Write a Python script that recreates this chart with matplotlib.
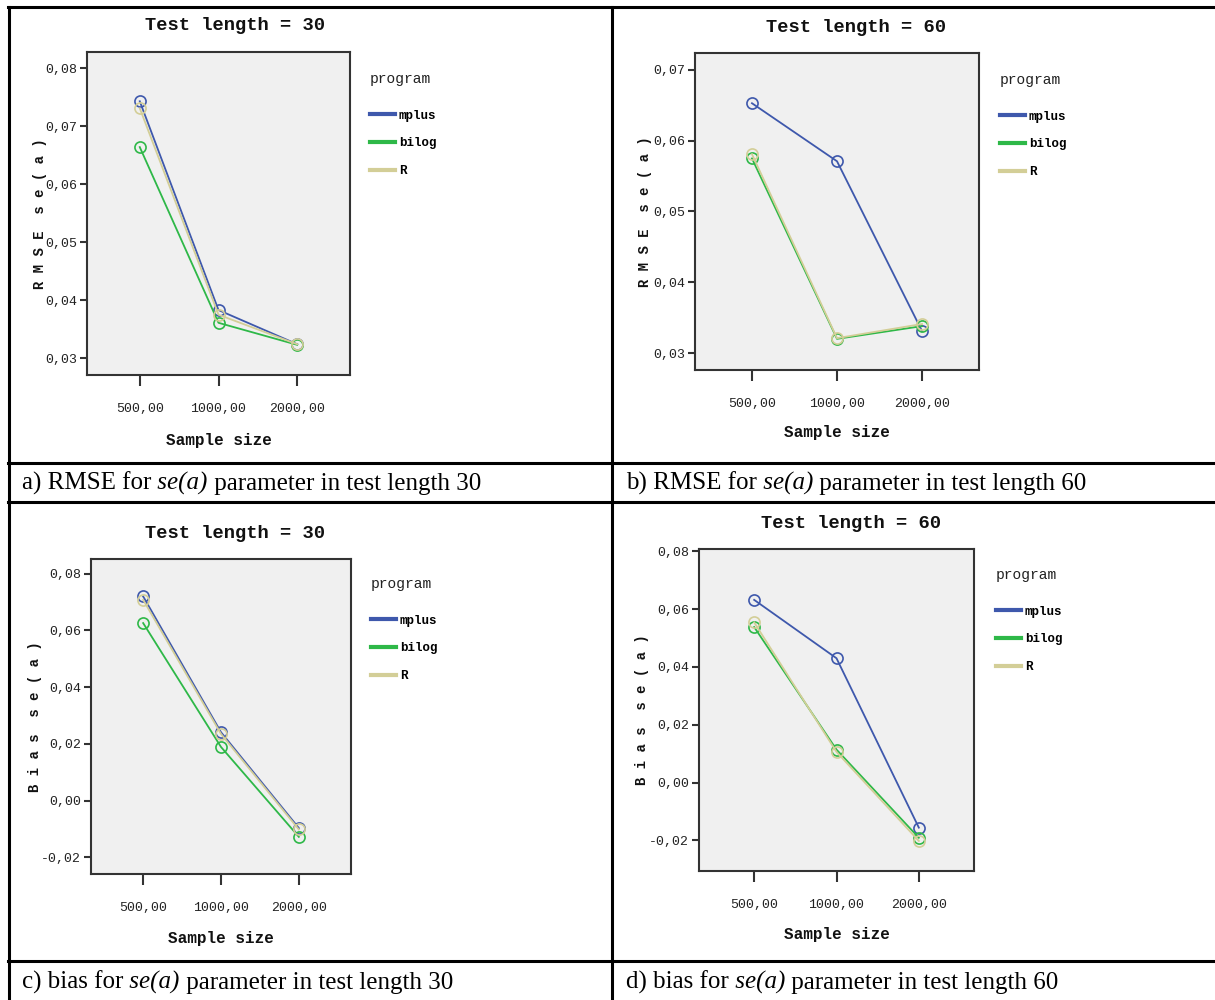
import matplotlib
matplotlib.use("Agg")
import matplotlib.pyplot as plt
from matplotlib.lines import Line2D
from matplotlib.ticker import FuncFormatter
import numpy as np

# data
sample_sizes = ["500,00", "1000,00", "2000,00"]
programs = ["mplus", "bilog", "R"]
colors = {"mplus": "#3E58AC", "bilog": "#2EB848", "R": "#D3CE97"}

rmse_30 = {"mplus": [0.0743, 0.0383, 0.0324],
           "bilog": [0.0664, 0.0361, 0.0323],
           "R":     [0.0731, 0.0375, 0.0324]}
rmse_60 = {"mplus": [0.0653, 0.0571, 0.0331],
           "bilog": [0.0575, 0.0320, 0.0338],
           "R":     [0.0581, 0.0321, 0.0341]}
bias_30 = {"mplus": [0.0720, 0.0241, -0.0097],
           "bilog": [0.0626, 0.0189, -0.0128],
           "R":     [0.0708, 0.0235, -0.0102]}
bias_60 = {"mplus": [0.0632, 0.0430, -0.0156],
           "bilog": [0.0538, 0.0114, -0.0191],
           "R":     [0.0554, 0.0106, -0.0202]}

W, H = 1215, 1000
fig = plt.figure(figsize=(W / 100, H / 100), dpi=100)
mono = "Liberation Mono"


def fx(x):
    return x / W


def fy(y):
    return 1 - y / H


panels = [
    # data, box (x0, y0, x1, y1), ylim, yticks, title, ylabel, title pos, ylabel x, xlabel pos, legend pos
    (rmse_30, (87, 52, 350, 375), (0.0271, 0.0828), [0.03, 0.04, 0.05, 0.06, 0.07, 0.08],
     "Test length = 30", "R M S E  s e ( a )", (235, 25), 40, (219, 440), (370, 72)),
    (rmse_60, (695, 53, 979, 370), (0.0276, 0.0724), [0.03, 0.04, 0.05, 0.06, 0.07],
     "Test length = 60", "R M S E  s e ( a )", (856, 28), 645, (837, 433), (1000, 73)),
    (bias_30, (91, 559, 351, 874), (-0.0259, 0.0852), [-0.02, 0.0, 0.02, 0.04, 0.06, 0.08],
     "Test length = 30", "B i a s  s e ( a )", (235, 533), 35, (221, 938), (371, 577)),
    (bias_60, (699, 549, 974, 871), (-0.0306, 0.0808), [-0.02, 0.0, 0.02, 0.04, 0.06, 0.08],
     "Test length = 60", "B i a s  s e ( a )", (851, 523), 642, (837, 935), (996, 568)),
]

xpos = np.arange(len(sample_sizes))

for data, box, ylim, yticks, title, ylabel, tpos, ylx, xlpos, lpos in panels:
    x0, y0, x1, y1 = box
    ax = fig.add_axes([fx(x0), fy(y1), fx(x1 - x0), (y1 - y0) / H])
    ax.set_facecolor("#F0F0F0")
    for p in programs:
        ax.plot(xpos, data[p], color=colors[p], lw=1.3, marker="o", ms=8,
                mfc="none", mew=1.2)
    ax.set_xlim(-0.67, 2.67)
    ax.set_ylim(*ylim)
    ax.set_xticks(xpos)
    ax.set_xticklabels(sample_sizes)
    ax.set_yticks(yticks)
    ax.yaxis.set_major_formatter(FuncFormatter(lambda v, _: f"{v:.2f}".replace(".", ",").replace("-0,00", "0,00")))
    for s in ax.spines.values():
        s.set_color("#333333")
        s.set_linewidth(1.5)
    ax.tick_params(axis="y", length=5, width=1.5, color="#333333", labelsize=9.5,
                   labelcolor="#222222", pad=2)
    ax.tick_params(axis="x", length=8, width=1.5, color="#333333", labelsize=9.5,
                   labelcolor="#222222", pad=12)
    for lab in ax.get_xticklabels() + ax.get_yticklabels():
        lab.set_family(mono)

    fig.text(fx(tpos[0]), fy(tpos[1]), title, ha="center", va="center",
             family=mono, weight="bold", fontsize=13.5, color="#111111")
    fig.text(fx(ylx), fy((y0 + y1) / 2), ylabel, ha="center", va="center", rotation=90,
             family=mono, weight="bold", fontsize=10, color="#111111")
    fig.text(fx(xlpos[0]), fy(xlpos[1]), "Sample size", ha="center", va="center",
             family=mono, weight="bold", fontsize=11.5, color="#111111")

    handles = [Line2D([], [], color=colors[p], lw=3) for p in programs]
    leg = ax.legend(handles, programs, title="program", loc="upper left",
                    bbox_to_anchor=(fx(lpos[0]), fy(lpos[1])), bbox_transform=fig.transFigure,
                    frameon=False, handlelength=2.0, handletextpad=0.3, labelspacing=1.27,
                    alignment="left", prop={"family": mono, "weight": "bold", "size": 9},
                    borderpad=0, borderaxespad=0)
    leg.get_title().set_family(mono)
    leg.get_title().set_fontsize(10.5)
    leg.get_title().set_color("#222222")
    leg._legend_box.sep = 17

# table frame around the four figures
for y in [7, 463, 502, 961]:
    fig.add_artist(Line2D([fx(8), 1], [fy(y), fy(y)], color="black", lw=2.2))
for x in [9, 612]:
    fig.add_artist(Line2D([fx(x), fx(x)], [fy(7), 0], color="black", lw=2.2))

# captions: plain text with the italic "se(a)" set in its own piece
captions = [
    (22, 490, "a) RMSE for", " parameter in test length 30"),
    (626, 490, "b) RMSE for", " parameter in test length 60"),
    (22, 989, "c) bias for", " parameter in test length 30"),
    (626, 989, "d) bias for", " parameter in test length 60"),
]
fig.canvas.draw()
renderer = fig.canvas.get_renderer()
for x, y, pre, post in captions:
    xx = fx(x)
    for txt, style in [(pre, "normal"), (" se(a)", "italic"), (post, "normal")]:
        t = fig.text(xx, fy(y), txt, ha="left", va="baseline", family="Liberation Serif",
                     style=style, fontsize=18)
        xx = t.get_window_extent(renderer).x1 / W

fig.savefig("out.png", dpi=100)
